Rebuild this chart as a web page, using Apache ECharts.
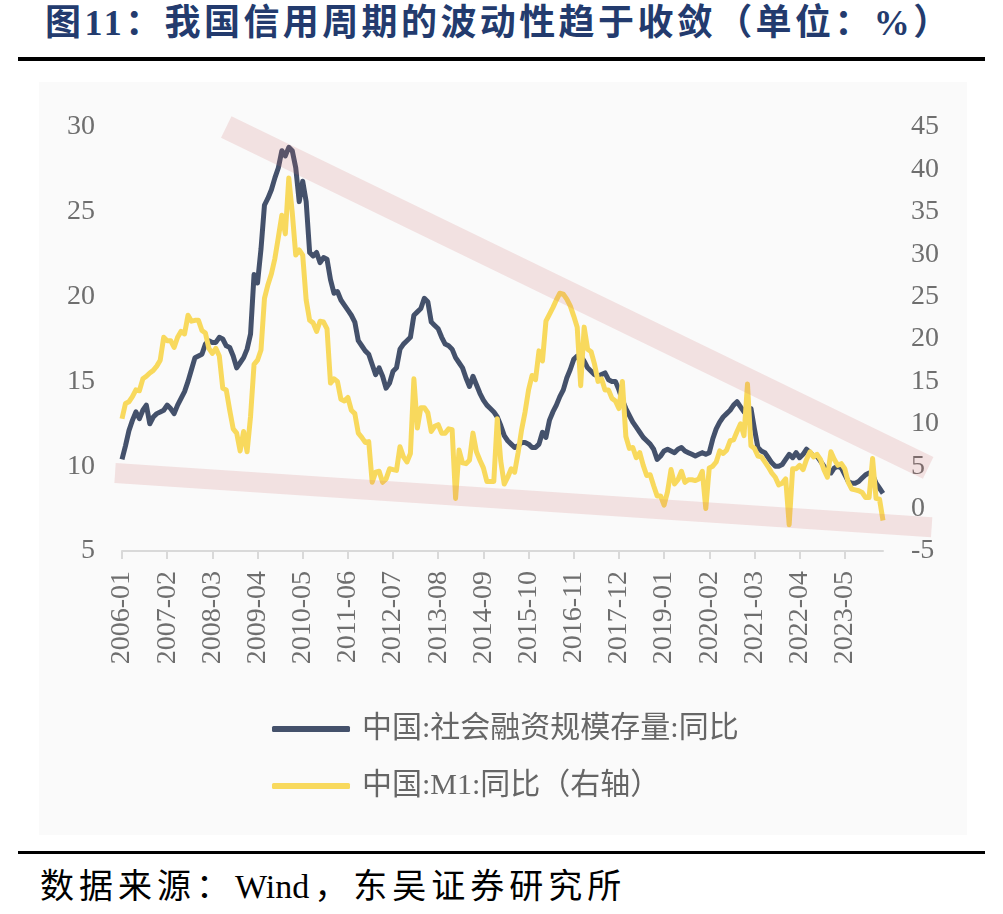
<!DOCTYPE html>
<html>
<head>
<meta charset="utf-8">
<script src="https://cdn.jsdelivr.net/npm/echarts@6/dist/echarts.min.js"></script>
<style>
  body{margin:0;width:1003px;height:914px;background:#fff;position:relative;overflow:hidden;}
  .title{position:absolute;left:45px;top:0;font-family:"Liberation Serif","Noto Sans CJK SC";font-weight:bold;
    font-size:36px;letter-spacing:3.4px;line-height:46px;color:#233b6e;white-space:nowrap;}
  .rule{position:absolute;left:18px;width:967px;background:#000;}
  #chart{position:absolute;left:39px;top:82px;width:928px;height:753px;background:#fafafa;}
  .source{position:absolute;left:40px;top:867px;font-family:"Liberation Serif","Noto Sans CJK SC";
    font-size:34px;letter-spacing:5px;line-height:40px;color:#000;white-space:nowrap;}
  .latin{letter-spacing:0;margin-right:5px;}
</style>
</head>
<body>
<div class="title">图11：我国信用周期的波动性趋于收敛（单位：%）</div>
<div class="rule" style="top:57px;height:4px;"></div>
<div id="chart"></div>
<div class="rule" style="top:851px;height:3px;"></div>
<div class="source">数据来源：<span class="latin">Wind</span>，东吴证券研究所</div>
<script>
// 月份 2006-01 ~ 2024-04
const startYear = 2006
const monthCount = 220
const months = []
for (let i = 0; i < monthCount; i++) {
  const m = i % 12 + 1
  months.push((startYear + Math.floor(i / 12)) + '-' + (m < 10 ? '0' + m : m))
}

// 中国:社会融资规模存量:同比 (左轴)
const tsfYoY = [
  10.4, 11.2, 12.1, 12.7, 13.2, 12.8, 13.3, 13.6, 12.5, 12.9, 13.1, 13.2,
  13.3, 13.6, 13.4, 13.1, 13.6, 14.0, 14.4, 15.0, 15.7, 16.4, 16.5, 16.6,
  17.2, 17.4, 17.3, 17.3, 17.6, 17.5, 17.1, 17.0, 16.5, 15.8, 16.1, 16.4,
  16.9, 17.8, 21.3, 20.8, 22.8, 25.4, 25.8, 26.3, 27.0, 27.6, 28.6, 28.3,
  28.8, 28.6, 27.6, 25.6, 26.8, 25.6, 22.6, 22.4, 22.6, 22.0, 22.3, 22.2,
  21.0, 20.2, 20.3, 19.8, 19.5, 19.2, 18.9, 18.5, 17.4, 17.1, 16.8, 16.6,
  16.0, 15.4, 15.8, 15.3, 14.6, 14.9, 15.6, 15.8, 16.9, 17.2, 17.4, 17.6,
  18.9, 19.1, 19.3, 19.9, 19.7, 18.5, 18.3, 18.1, 17.6, 17.2, 17.1, 16.9,
  16.4, 16.1, 15.8, 15.2, 14.7, 15.3, 14.8, 14.3, 13.9, 13.6, 13.4, 13.2,
  12.9, 12.4, 11.8, 11.5, 11.3, 11.1, 11.2, 11.4, 11.4, 11.3, 11.1, 11.1,
  11.3, 12.0, 11.7, 12.7, 13.2, 13.6, 14.1, 14.5, 15.2, 15.7, 16.3, 16.5,
  16.5, 16.2, 15.8, 15.6, 15.4, 15.3, 15.4, 15.5, 15.1, 15.0, 15.0, 14.5,
  13.9, 13.4, 13.0, 12.6, 12.3, 12.0, 11.7, 11.5, 11.3, 11.0, 10.4, 10.6,
  10.9, 11.0, 10.9, 10.8, 11.0, 11.1, 10.9, 10.8, 10.7, 10.6, 10.7, 10.8,
  10.7, 10.8, 11.6, 12.2, 12.6, 12.9, 13.1, 13.3, 13.6, 13.8, 13.5, 13.2,
  13.1, 13.4, 12.2, 11.1, 10.9, 10.8, 10.5, 10.2, 10.0, 10.0, 10.1, 10.4,
  10.7, 10.5, 10.8, 10.5, 10.7, 11.0, 10.8, 10.6, 10.6, 10.3, 10.0, 9.7,
  9.6, 9.9, 10.0, 9.9, 9.5, 9.1, 9.0, 9.0, 9.1, 9.3, 9.5, 9.6,
  9.5, 9.0, 8.7, 8.4
]

// 中国:M1:同比 (右轴)
const m1YoY = [
  10.6, 12.4, 12.6, 13.2, 14.0, 13.9, 15.3, 15.6, 16.0, 16.3, 16.8, 17.5,
  20.2, 19.8, 19.8, 19.0, 20.2, 20.9, 20.6, 22.8, 22.1, 22.2, 22.2, 21.0,
  20.7, 18.9, 18.3, 18.9, 18.0, 14.2, 14.0, 11.6, 9.4, 8.9, 6.8, 9.1,
  6.7, 10.9, 17.0, 17.5, 18.7, 24.8, 26.4, 27.7, 29.5, 32.0, 34.6, 32.4,
  39.0, 34.9, 29.9, 30.5, 29.9, 24.6, 22.2, 21.9, 20.9, 22.1, 22.0, 21.2,
  14.8, 15.3, 15.0, 12.9, 12.7, 13.1, 11.6, 11.2, 8.9, 8.4, 7.8, 7.9,
  3.1, 4.3, 4.4, 3.1, 3.5, 4.7, 4.6, 4.5, 7.3, 6.1, 5.5, 6.5,
  15.3, 9.5, 11.9, 11.9, 11.3, 9.1, 9.7, 9.9, 8.9, 8.9, 9.4, 9.3,
  1.2, 6.9, 5.4, 5.3, 5.7, 8.9, 6.7, 5.7, 4.8, 3.2, 3.2, 3.2,
  10.6, 5.6, 2.9, 3.7, 4.7, 4.3, 6.6, 9.3, 11.4, 14.0, 15.7, 15.2,
  18.6, 17.4, 22.1, 22.9, 23.7, 24.6, 25.4, 25.3, 24.7, 23.9, 22.7, 21.4,
  14.5, 21.4, 18.8, 18.5, 17.0, 15.0, 15.3, 14.0, 14.0, 13.0, 12.7, 11.8,
  15.0, 8.5, 7.1, 7.2, 6.0, 6.6, 5.1, 3.9, 4.0, 2.7, 1.5, 1.5,
  0.4, 2.0, 4.6, 2.9, 3.4, 4.4, 3.1, 3.4, 3.4, 3.3, 3.5, 4.4,
  0.0, 4.8, 5.0, 5.5, 6.8, 6.5, 6.9, 8.0, 8.1, 9.1, 10.0, 8.6,
  14.7, 7.4, 7.1, 6.2, 6.1, 5.5, 4.9, 4.2, 3.7, 2.8, 3.0, 3.5,
  -1.9, 4.7, 4.7, 5.1, 4.6, 5.8, 6.7, 6.1, 6.4, 5.8, 4.6, 3.7,
  6.7, 5.8, 5.1, 5.3, 4.7, 3.1, 2.3, 2.2, 2.1, 1.9, 1.3, 1.3,
  5.9, 1.2, 1.1, -1.4
]

// 收敛趋势带: [月份序号, 左轴数值]
const upperBand = [[30, 30.0], [232, 9.9]]
const lowerBand = [[-2, 9.6], [233, 6.4]]

const labelFont = {fontFamily: 'Liberation Serif', fontSize: 28, color: '#6e6e6e'}

let chart = echarts.init(document.getElementById('chart'))
let option = {
  animation: false,
  color: ['#44516b', '#f8d95d'],
  grid: {left: 83, right: 84, top: 45, bottom: 284},
  legend: {
    orient: 'vertical',
    left: 233,
    top: 632,
    padding: 0,
    itemWidth: 78,
    itemHeight: 6,
    itemGap: 27,
    icon: 'roundRect',
    textStyle: {fontFamily: 'Liberation Serif, Noto Sans CJK SC', fontSize: 30, color: '#666', padding: [0, 0, 0, 7]},
    data: ['中国:社会融资规模存量:同比', '中国:M1:同比（右轴）']
  },
  xAxis: {
    type: 'category',
    boundaryGap: false,
    data: months,
    axisLine: {onZero: false, lineStyle: {color: '#d9d9d9', width: 2}},
    axisTick: {interval: 12, length: 8, lineStyle: {color: '#d9d9d9', width: 2}},
    axisLabel: Object.assign({interval: 12, rotate: 90, margin: 20}, labelFont),
    splitLine: {show: false}
  },
  yAxis: [{
    type: 'value',
    min: 5,
    max: 30,
    interval: 5,
    axisLine: {show: false},
    axisTick: {show: false},
    splitLine: {show: false},
    axisLabel: Object.assign({margin: 27}, labelFont)
  }, {
    type: 'value',
    position: 'right',
    min: -5,
    max: 45,
    interval: 5,
    axisLine: {show: false},
    axisTick: {show: false},
    splitLine: {show: false},
    axisLabel: Object.assign({margin: 28}, labelFont)
  }],
  series: [{
    name: '中国:社会融资规模存量:同比',
    type: 'line',
    yAxisIndex: 0,
    showSymbol: false,
    lineStyle: {width: 5, join: 'round'},
    data: tsfYoY
  }, {
    name: '中国:M1:同比（右轴）',
    type: 'line',
    yAxisIndex: 1,
    showSymbol: false,
    lineStyle: {width: 5, join: 'round'},
    data: m1YoY
  }]
}
chart.setOption(option)

// 用坐标轴换算趋势带位置
function bandLine(band, width) {
  let p1 = chart.convertToPixel({xAxisIndex: 0, yAxisIndex: 0}, band[0])
  let p2 = chart.convertToPixel({xAxisIndex: 0, yAxisIndex: 0}, band[1])
  return {
    type: 'line',
    silent: true,
    z: 100,
    shape: {x1: p1[0], y1: p1[1], x2: p2[0], y2: p2[1]},
    style: {stroke: 'rgba(205,100,100,0.16)', lineWidth: width, lineCap: 'butt'}
  }
}
chart.setOption({graphic: [bandLine(upperBand, 24), bandLine(lowerBand, 20)]})
</script>
</body>
</html>
